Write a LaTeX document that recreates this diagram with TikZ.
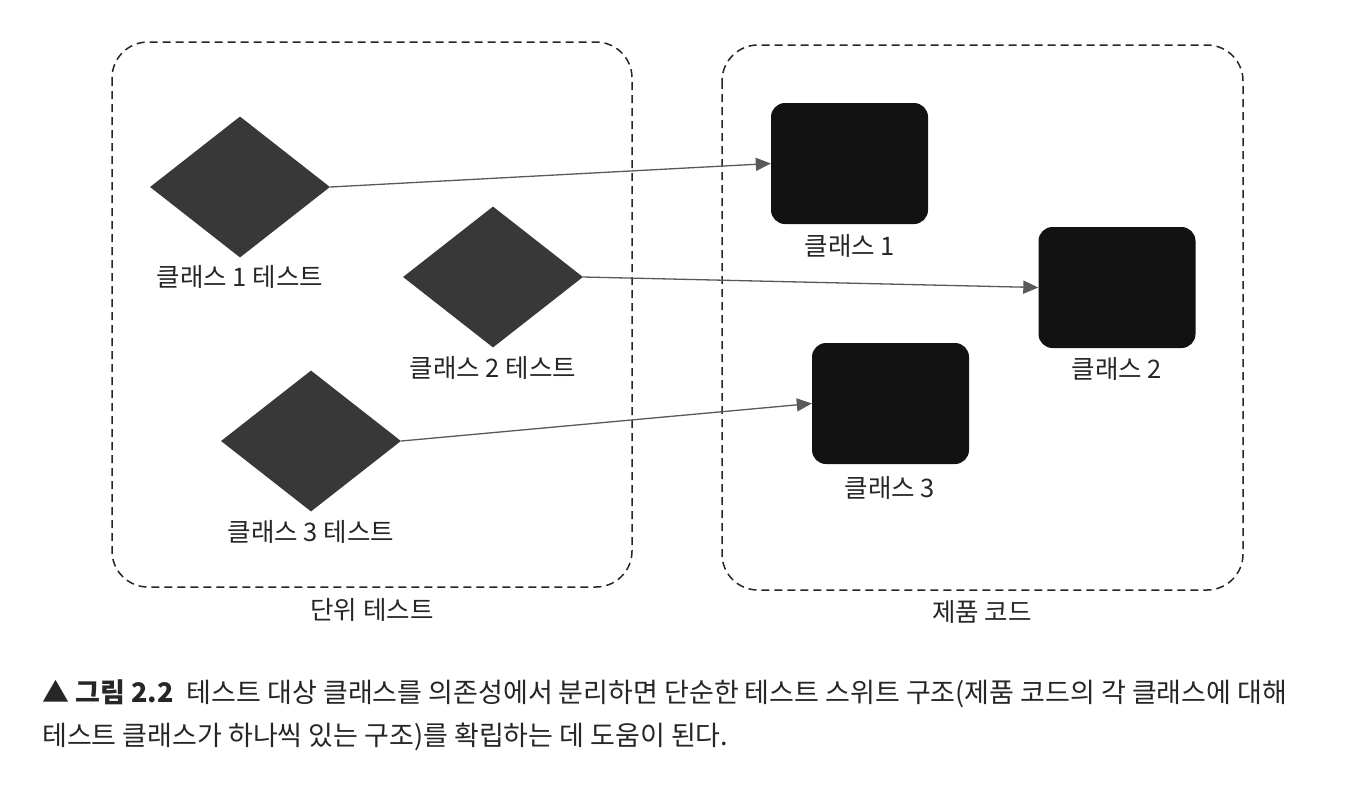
\documentclass[tikz,border=0pt]{standalone}
\usepackage{fontspec}
\setmainfont{Noto Sans CJK KR}
\usetikzlibrary{shapes.geometric,arrows.meta}
\tikzset{
  group/.style={draw=black!85,line width=1.5pt,dash pattern=on 8pt off 5pt,rounded corners=36pt},
  testnode/.style={diamond,fill=black!78,draw=none,minimum width=180pt,minimum height=141pt,inner sep=0pt},
  classnode/.style={rectangle,fill=black!93,draw=none,rounded corners=14pt,minimum width=157pt,minimum height=121pt,inner sep=0pt},
  lbl/.style={font=\fontsize{25.5pt}{28pt}\selectfont,text=black!85,inner sep=0pt},
  dep/.style={draw=black!65,line width=1.3pt,-{Triangle[length=15pt,width=13pt]}},
  captxt/.style={font=\fontsize{27pt}{32pt}\selectfont,text=black!85,anchor=west,inner sep=0pt}
}
\begin{document}
\begin{tikzpicture}[x=1pt,y=-1pt]
\useasboundingbox (0,0) rectangle (1362,788);
\fill[white] (0,0) rectangle (1362,788);
% groups
\draw[group] (112,42) rectangle (632,587);
\draw[group] (722,45) rectangle (1243,590);
\node[lbl] (g1) at (372,610) {단위 테스트};
\node[lbl] (g2) at (982,612) {제품 코드};
% tests
\node[testnode] (t1) at (240,187) {};
\node[testnode] (t2) at (493,277) {};
\node[testnode] (t3) at (311,441) {};
\node[lbl] (t1l) at (240,277) {클래스 1 테스트};
\node[lbl] (t2l) at (493,368) {클래스 2 테스트};
\node[lbl] (t3l) at (311,532) {클래스 3 테스트};
% classes
\node[classnode] (c1) at (849.5,163.5) {};
\node[classnode] (c2) at (1117,287.5) {};
\node[classnode] (c3) at (890.5,403.5) {};
\node[lbl] (c1l) at (850,246) {클래스 1};
\node[lbl] (c2l) at (1117,369) {클래스 2};
\node[lbl] (c3l) at (890,488) {클래스 3};
% arrows
\draw[dep] (t1.east) -- (c1.west);
\draw[dep] (t2.east) -- (c2.west);
\draw[dep] (t3.east) -- (c3.west);
% caption
\node[captxt] (cap1) at (42,694) {▲ \textbf{그림 2.2}\enspace 테스트 대상 클래스를 의존성에서 분리하면 단순한 테스트 스위트 구조(제품 코드의 각 클래스에 대해};
\node[captxt] (cap2) at (42,737) {테스트 클래스가 하나씩 있는 구조)를 확립하는 데 도움이 된다.};
\end{tikzpicture}
\end{document}
